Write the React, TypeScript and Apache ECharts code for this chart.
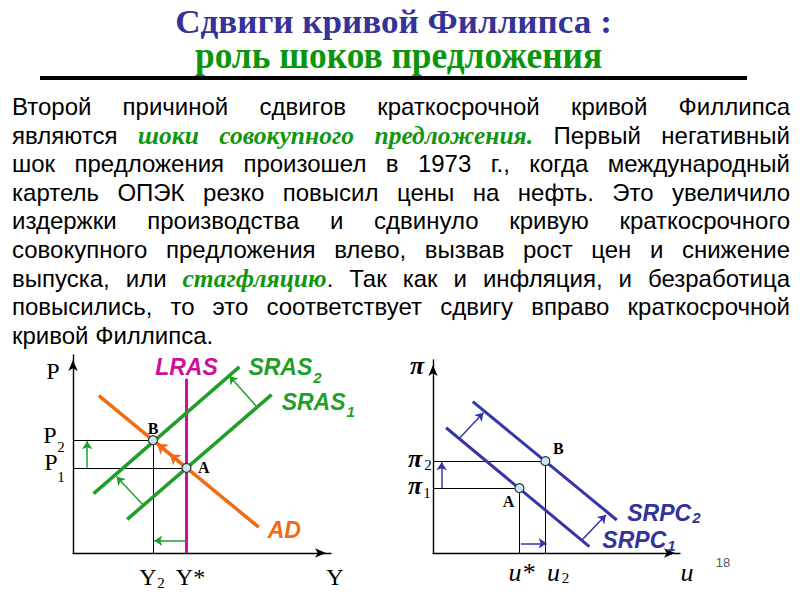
import React, { useEffect, useRef } from "react";
import * as echarts from "echarts";

const SANS = "Liberation Sans";
const SERIF = "Liberation Serif";

// ---- Texts ----
const titleTop = "Сдвиги кривой Филлипса :";
const titleBottom = "роль шоков предложения";
const paragraphLines = [
  "Второй причиной сдвигов краткосрочной кривой Филлипса",
  "являются *шоки совокупного предложения.* Первый негативный",
  "шок предложения произошел в 1973 г., когда международный",
  "картель ОПЭК резко повысил цены на нефть. Это увеличило",
  "издержки производства и сдвинуло кривую краткосрочного",
  "совокупного предложения влево, вызвав рост цен и снижение",
  "выпуска, или *стагфляцию*. Так как и инфляция, и безработица",
  "повысились, то это соответствует сдвигу вправо краткосрочной",
  "кривой Филлипса.",
];
const pageNumber = "18";

// ---- Left diagram: AD–AS (both axes 0..100) ----
const asPointA = [44, 43];
const asPointB = [31, 57];
const lras = [[44, 0], [44, 88]];
const ad = [[10, 79.5], [72, 13]];
const sras1 = [[21, 17], [77, 80]];
const sras2 = [[8, 30], [64.5, 94]];
const asGuideLines = [
  [[0, 57], [31, 57]],
  [[0, 43], [44, 43]],
  [[31, 0], [31, 57]],
];
const asGreenArrows = [
  [[27.2, 24.2], [16.9, 38.5]],
  [[71.2, 73.9], [60.6, 89.4]],
  [[5.5, 43], [5.5, 56.5]],
  [[44, 6.2], [31.5, 6.2]],
];
const asOrangeArrows = [
  [[44, 43], [37.5, 50]],
  [[37.5, 50], [32.6, 55.3]],
];

// ---- Right diagram: Phillips curves (both axes 0..100) ----
const pcPointA = [35, 33.6];
const pcPointB = [45.5, 47.6];
const srpc1 = [[5.3, 64.9], [63.3, 3.3]];
const srpc2 = [[16.1, 78.4], [74.4, 17.1]];
const pcGuideLines = [
  [[0, 47.6], [45.5, 47.6]],
  [[0, 33.6], [35, 33.6]],
  [[35, 0], [35, 33.6]],
  [[45.5, 0], [45.5, 47.6]],
];
const pcBlueArrows = [
  [[10.9, 59.7], [20.4, 72.7]],
  [[60.6, 7.1], [70, 19.7]],
  [[3.5, 33.6], [3.5, 47]],
  [[35.6, 5], [46, 5]],
];

// ---- Colours ----
const NAVY = "#333399";
const TITLE_GREEN = "#0a960a";
const EM_GREEN = "#109610";
const GREEN = "#1f9f2a";
const ORANGE = "#f26a12";
const MAGENTA = "#cc1199";
const BLUE = "#3535aa";

const axis = (gi: number) => ({
  gridIndex: gi,
  type: "value",
  min: 0,
  max: 100,
  axisLine: {
    show: true,
    onZero: false,
    symbol: ["none", "arrow"],
    symbolSize: [7, 11],
    symbolOffset: [0, -5],
    lineStyle: { color: "#000", width: 1.4 },
  },
  axisTick: { show: false },
  axisLabel: { show: false },
  splitLine: { show: false },
});

const curve = (gi: number, data: number[][], color: string, width: number) => ({
  type: "line",
  xAxisIndex: gi,
  yAxisIndex: gi,
  data,
  symbol: "none",
  showSymbol: false,
  lineStyle: { color, width },
  silent: true,
  z: 3,
});

const segs = (gi: number, list: number[][][], color: string, width: number, arrow: boolean, size = 8, z = 2) => ({
  type: "lines",
  coordinateSystem: "cartesian2d",
  xAxisIndex: gi,
  yAxisIndex: gi,
  data: list.map((c) => ({ coords: c })),
  symbol: arrow ? ["none", "arrow"] : ["none", "none"],
  symbolSize: size,
  lineStyle: { color, width, opacity: 1, curveness: 0 },
  silent: true,
  z,
});

const dots = (gi: number, pts: number[][]) => ({
  type: "scatter",
  xAxisIndex: gi,
  yAxisIndex: gi,
  data: pts,
  symbol: "circle",
  symbolSize: 9,
  itemStyle: { color: "#c8e6f2", borderColor: "#333", borderWidth: 1.2, opacity: 1 },
  silent: true,
  z: 6,
});

export default function App() {
  const ref = useRef<HTMLDivElement>(null);

  useEffect(() => {
    document.body.style.margin = "0";
    document.body.style.overflow = "hidden";
    const chart = echarts.init(ref.current!, null, { renderer: "svg", width: 800, height: 600 });

    chart.setOption({
      animation: false,
      backgroundColor: "#ffffff",
      grid: [
        { left: 73, top: 355, width: 258, height: 198 },
        { left: 433, top: 360, width: 247, height: 193 },
      ],
      xAxis: [axis(0), axis(1)],
      yAxis: [axis(0), axis(1)],
      series: [
        segs(0, asGuideLines, "#000", 1, false),
        curve(0, lras, MAGENTA, 3),
        curve(0, ad, ORANGE, 3.5),
        curve(0, sras1, GREEN, 3.5),
        curve(0, sras2, GREEN, 3.5),
        segs(0, asGreenArrows, GREEN, 1.5, true, 8, 4),
        segs(0, asOrangeArrows, ORANGE, 3, true, 10, 4),
        dots(0, [asPointA, asPointB]),
        segs(1, pcGuideLines, "#000", 1, false),
        curve(1, srpc1, BLUE, 3),
        curve(1, srpc2, BLUE, 3),
        segs(1, pcBlueArrows, BLUE, 1.5, true, 8, 4),
        dots(1, [pcPointA, pcPointB]),
      ],
    });

    const ctx = document.createElement("canvas").getContext("2d")!;
    const measure = (text: string, size: number, family: string, weight = "normal", style = "normal") => {
      ctx.font = `${style} ${weight} ${size}px ${family}`;
      return ctx.measureText(text).width;
    };
    const txt = (x: number, y: number, text: string, o: any = {}) => ({
      type: "text",
      x,
      y,
      silent: true,
      z: 50,
      scaleX: o.scaleX ?? 1,
      style: {
        text,
        fill: o.color ?? "#000",
        fontSize: o.size ?? 20,
        fontFamily: o.family ?? SANS,
        fontWeight: o.weight ?? "normal",
        fontStyle: o.italic ? "italic" : "normal",
        align: o.align ?? "left",
        verticalAlign: "middle",
      },
    });

    const els: any[] = [];

    // Title
    const t1w = measure(titleTop, 33, SERIF, "bold");
    els.push(txt(393.5, 22.3, titleTop, { size: 33, family: SERIF, weight: "bold", color: NAVY, align: "center", scaleX: 437 / t1w }));
    const t2w = measure(titleBottom, 38, SERIF, "bold");
    els.push(txt(398.5, 55.3, titleBottom, { size: 38, family: SERIF, weight: "bold", color: TITLE_GREEN, align: "center", scaleX: 407 / t2w }));
    els.push({ type: "line", silent: true, shape: { x1: 40, y1: 78, x2: 747, y2: 78 }, style: { stroke: "#000", lineWidth: 4 } });

    // Paragraph, justified
    const PSIZE = 24;
    const ESIZE = 25.5;
    const fontFor = (em: boolean) =>
      em
        ? { family: SERIF, weight: "bold", italic: true, color: EM_GREEN, size: ESIZE }
        : { family: SANS, weight: "normal", italic: false, color: "#000", size: PSIZE };
    const parse = (line: string) => {
      const words: { text: string; em: boolean }[][] = [];
      let cur: { text: string; em: boolean }[] = [];
      let em = false;
      for (const ch of line) {
        if (ch === "*") { em = !em; continue; }
        if (ch === " ") { if (cur.length) { words.push(cur); cur = []; } continue; }
        const last = cur[cur.length - 1];
        if (last && last.em === em) last.text += ch;
        else cur.push({ text: ch, em });
      }
      if (cur.length) words.push(cur);
      return words;
    };
    const segW = (s: { text: string; em: boolean }) => {
      const f = fontFor(s.em);
      return measure(s.text, f.size, f.family, f.weight, f.italic ? "italic" : "normal");
    };
    const LEFT = 12, RIGHT = 790;
    paragraphLines.forEach((line, i) => {
      const words = parse(line);
      const widths = words.map((w) => w.reduce((a, s) => a + segW(s), 0));
      const total = widths.reduce((a, b) => a + b, 0);
      const last = i === paragraphLines.length - 1;
      const gap = last ? measure(" ", PSIZE, SANS) : (RIGHT - LEFT - total) / (words.length - 1);
      const y = 114.8 + i * 28.6 - 8.3;
      let x = LEFT;
      words.forEach((w, wi) => {
        let sx = x;
        w.forEach((s) => {
          const f = fontFor(s.em);
          els.push(txt(sx, y, s.text, { size: f.size, family: f.family, weight: f.weight, italic: f.italic, color: f.color }));
          sx += segW(s);
        });
        x += widths[wi] + gap;
      });
    });

    // Diagram labels anchored to data coordinates
    const at = (gi: number, p: number[]) => chart.convertToPixel({ gridIndex: gi } as any, p) as number[];
    const lab = (gi: number, p: number[], dx: number, dy: number, text: string, o: any) => {
      const q = at(gi, p);
      els.push(txt(q[0] + dx, q[1] + dy, text, o));
    };
    const serif24 = { size: 24, family: SERIF, align: "center" };
    const sub = { size: 15, family: SERIF, align: "center" };

    // Left
    lab(0, [0, 92], -20, 0, "P", serif24);
    lab(0, [0, 57], -23, -5, "P", serif24);
    lab(0, [0, 57], -12, 7, "2", sub);
    lab(0, [0, 43], -22, -6, "P", serif24);
    lab(0, [0, 43], -12, 9, "1", sub);
    lab(0, [31, 0], -5, 24, "Y", serif24);
    lab(0, [31, 0], 8, 30, "2", sub);
    lab(0, [44, 0], 4, 24, "Y*", serif24);
    lab(0, [100, 0], 4, 24, "Y", serif24);
    const bi = (color: string) => ({ size: 23, family: SANS, weight: "bold", italic: true, color });
    const biSub = (color: string) => ({ size: 15, family: SANS, weight: "bold", italic: true, color });
    lab(0, lras[1], 0, -12, "LRAS", { ...bi(MAGENTA), align: "center" });
    const srasW = measure("SRAS", 23, SANS, "bold", "italic");
    lab(0, sras2[1], 9, 0, "SRAS", bi(GREEN));
    lab(0, sras2[1], 9 + srasW + 1, 11, "2", biSub(GREEN));
    lab(0, sras1[1], 10, 7, "SRAS", bi(GREEN));
    lab(0, sras1[1], 10 + srasW + 1, 17, "1", biSub(GREEN));
    lab(0, ad[1], 9, 3, "AD", bi(ORANGE));
    lab(0, asPointB, 0, -12, "B", { size: 16, family: SERIF, weight: "bold", align: "center" });
    lab(0, asPointA, 11.5, 0, "A", { size: 16, family: SERIF, weight: "bold" });

    // Right
    const piBig = { size: 26, family: SERIF, weight: "bold", italic: true, align: "center" };
    const uBig = { size: 26, family: SERIF, italic: true, align: "center" };
    lab(1, [0, 100], -16, 5, "π", piBig);
    lab(1, [0, 47.6], -18, -3, "π", piBig);
    lab(1, [0, 47.6], -5, 4, "2", sub);
    lab(1, [0, 33.6], -18, -3, "π", piBig);
    lab(1, [0, 33.6], -6, 5, "1", sub);
    lab(1, [35, 0], 2, 19, "u*", uBig);
    lab(1, [45.5, 0], 8, 19, "u", uBig);
    lab(1, [45.5, 0], 20, 25, "2", sub);
    lab(1, [100, 0], 7, 19, "u", uBig);
    lab(1, pcPointA, -11, 13.5, "A", { size: 16, family: SERIF, weight: "bold", align: "center" });
    lab(1, pcPointB, 13, -13, "B", { size: 16, family: SERIF, weight: "bold", align: "center" });
    const srpcW = measure("SRPC", 23, SANS, "bold", "italic");
    lab(1, srpc2[1], 10.5, -7, "SRPC", bi(NAVY));
    lab(1, srpc2[1], 10.5 + srpcW + 1, -2, "2", biSub(NAVY));
    lab(1, srpc1[1], 13, -6.6, "SRPC", bi(NAVY));
    lab(1, srpc1[1], 13 + srpcW + 1, -1.6, "1", biSub(NAVY));

    // Page number
    els.push(txt(723, 562, pageNumber, { size: 13, family: SANS, color: "#555", align: "center" }));

    chart.setOption({ graphic: { elements: els } });

    return () => chart.dispose();
  }, []);

  return <div ref={ref} style={{ width: 800, height: 600 }} />;
}
